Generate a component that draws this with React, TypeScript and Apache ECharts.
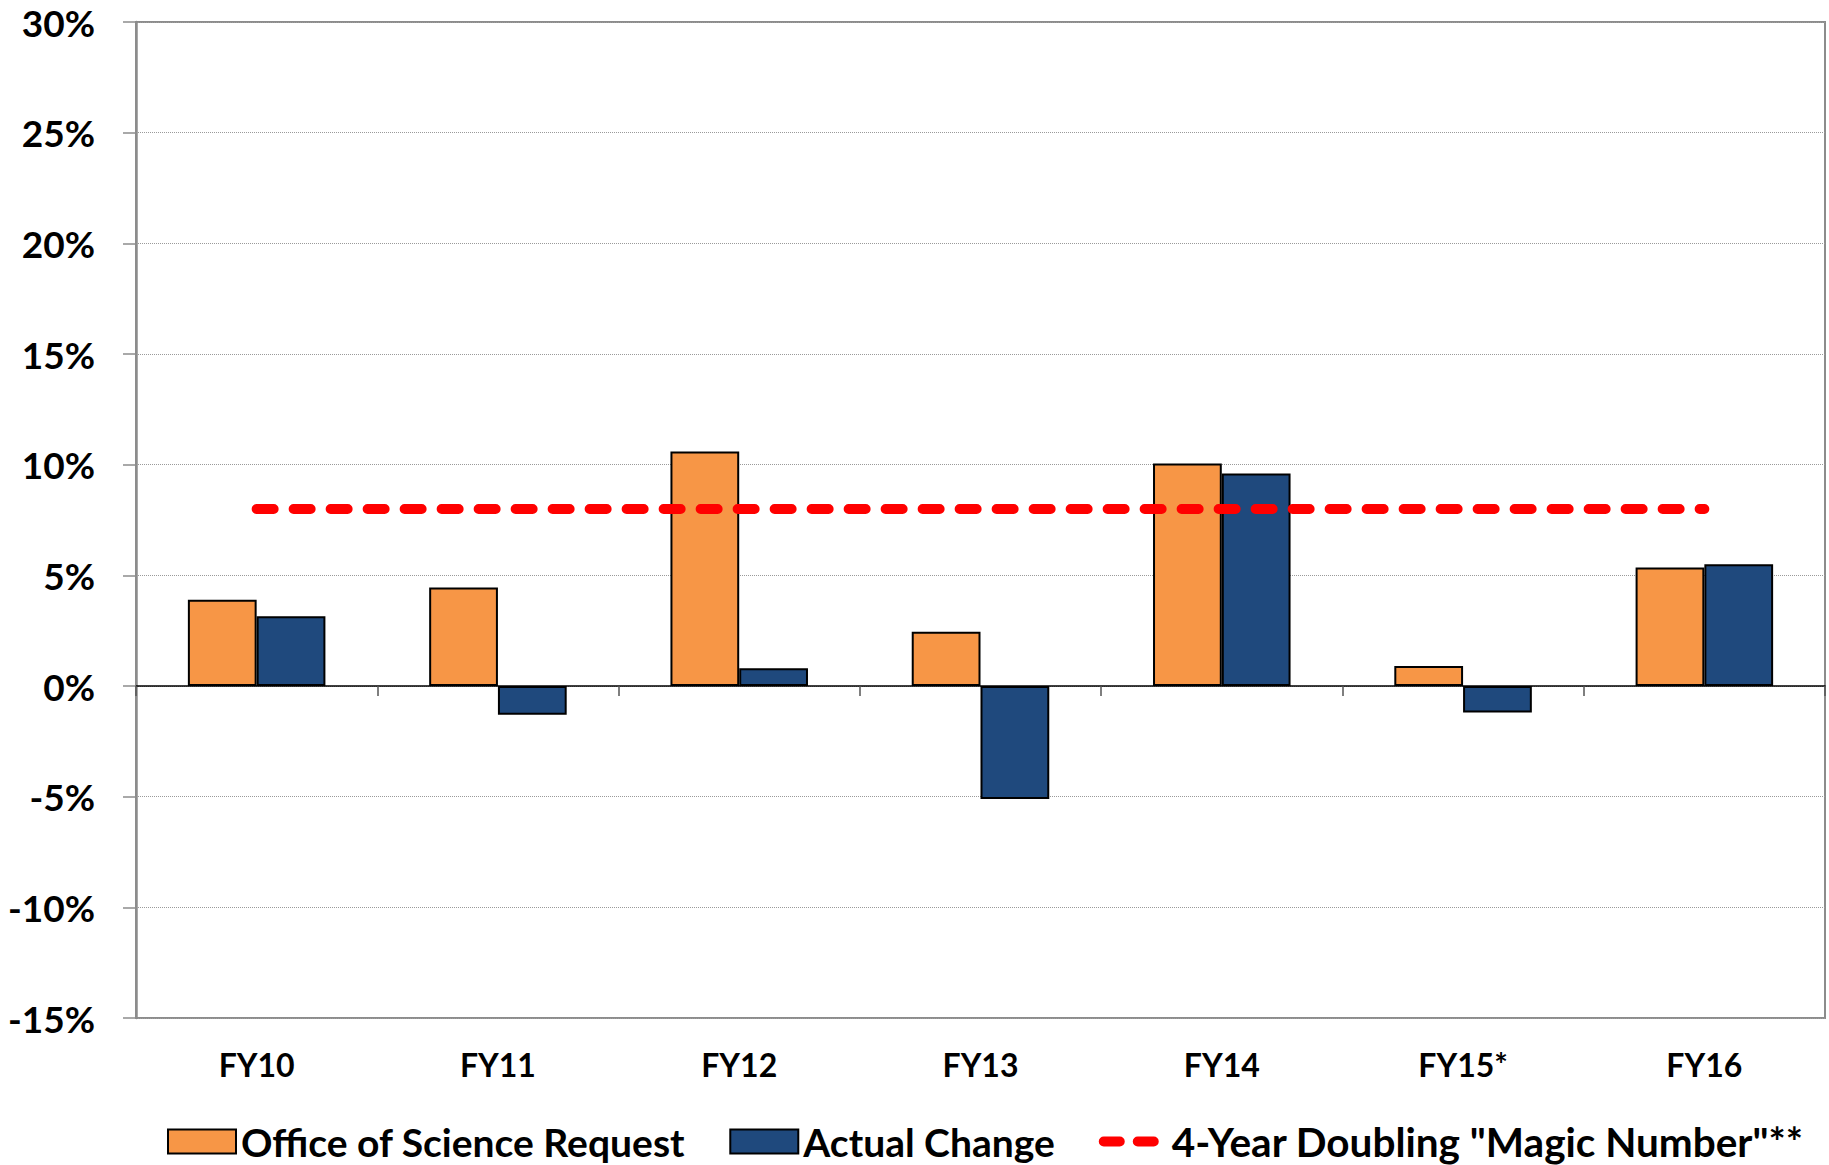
import React, { useEffect, useRef } from "react";
import * as echarts from "echarts";

const categories = ["FY10", "FY11", "FY12", "FY13", "FY14", "FY15*", "FY16"];
const requestValues = [3.9, 4.45, 10.6, 2.45, 10.05, 0.9, 5.35];
const actualValues = [3.15, -1.3, 0.8, -5.1, 9.6, -1.2, 5.5];
const magicNumber = [8, 8, 8, 8, 8, 8, 8];
const yTicks = { min: -15, max: 30, interval: 5 };

const FONT = "Lato, 'Open Sans', sans-serif";
const DASH_ICON =
  "path://M0 0 M68 24 M5 7 L21 7 A5 5 0 0 1 21 17 L5 17 A5 5 0 0 1 5 7 Z M39 7 L55 7 A5 5 0 0 1 55 17 L39 17 A5 5 0 0 1 39 7 Z";

export default function App() {
  const ref = useRef<HTMLDivElement>(null);
  useEffect(() => {
    document.body.style.margin = "0";
    if (!ref.current) return;
    const chart = echarts.init(ref.current, null, { renderer: "svg" });
    chart.setOption({
      animation: false,
      backgroundColor: "#ffffff",
      textStyle: { fontFamily: FONT },
      grid: {
        left: 136,
        right: 4,
        top: 22,
        bottom: 147,
        show: true,
        borderColor: "#8c8c8c",
        borderWidth: 2,
      },
      legend: {
        left: 162,
        top: 1116,
        itemWidth: 68,
        itemHeight: 24,
        itemGap: 44,
        textStyle: { fontSize: 39, fontWeight: "bold", color: "#000", fontFamily: FONT },
        data: [
          { name: "Office of Science Request", icon: "rect" },
          { name: "Actual Change", icon: "rect" },
          {
            name: '4-Year Doubling "Magic Number"**',
            icon: DASH_ICON,
            itemStyle: { color: "#FF0000", borderWidth: 0 },
            textStyle: { fontSize: 40.5, fontWeight: "bold", color: "#000", fontFamily: FONT },
          },
        ],
      },
      xAxis: [
        {
          type: "category",
          data: categories,
          position: "bottom",
          axisLine: { onZero: true, lineStyle: { color: "#000", width: 1.5 } },
          axisTick: { show: true, length: 10, lineStyle: { color: "#555", width: 1.5 } },
          axisLabel: { show: false },
        },
        {
          type: "category",
          data: categories,
          position: "bottom",
          axisLine: { show: false },
          axisTick: { show: false },
          axisLabel: {
            show: true,
            margin: 30,
            fontSize: 32,
            fontWeight: "bold",
            color: "#000",
            fontFamily: FONT,
          },
        },
      ],
      yAxis: {
        type: "value",
        min: yTicks.min,
        max: yTicks.max,
        interval: yTicks.interval,
        axisLine: { show: true, lineStyle: { color: "#8c8c8c", width: 2.5 } },
        axisTick: { show: true, length: 13, lineStyle: { color: "#8c8c8c", width: 1.5 } },
        axisLabel: {
          formatter: "{value}%",
          fontSize: 37,
          fontWeight: "bold",
          color: "#000",
          margin: 41,
          fontFamily: FONT,
        },
        splitLine: { show: true, lineStyle: { color: "#9a9a9a", width: 1, type: "dotted" } },
      },
      series: [
        {
          name: "Office of Science Request",
          type: "bar",
          xAxisIndex: 0,
          data: requestValues,
          barGap: "0%",
          barCategoryGap: "43%",
          itemStyle: { color: "#F79646", borderColor: "#000", borderWidth: 2 },
          z: 2,
        },
        {
          name: "Actual Change",
          type: "bar",
          xAxisIndex: 0,
          data: actualValues,
          barGap: "0%",
          barCategoryGap: "43%",
          itemStyle: { color: "#1F497D", borderColor: "#000", borderWidth: 2 },
          z: 2,
        },
        {
          name: '4-Year Doubling "Magic Number"**',
          type: "line",
          xAxisIndex: 0,
          data: magicNumber,
          symbol: "none",
          itemStyle: { color: "#FF0000" },
          lineStyle: { color: "#FF0000", width: 10, type: [17, 20], cap: "round" },
          z: 5,
        },
      ],
    });
    return () => chart.dispose();
  }, []);
  return <div ref={ref} style={{ width: 1829, height: 1165 }} />;
}
